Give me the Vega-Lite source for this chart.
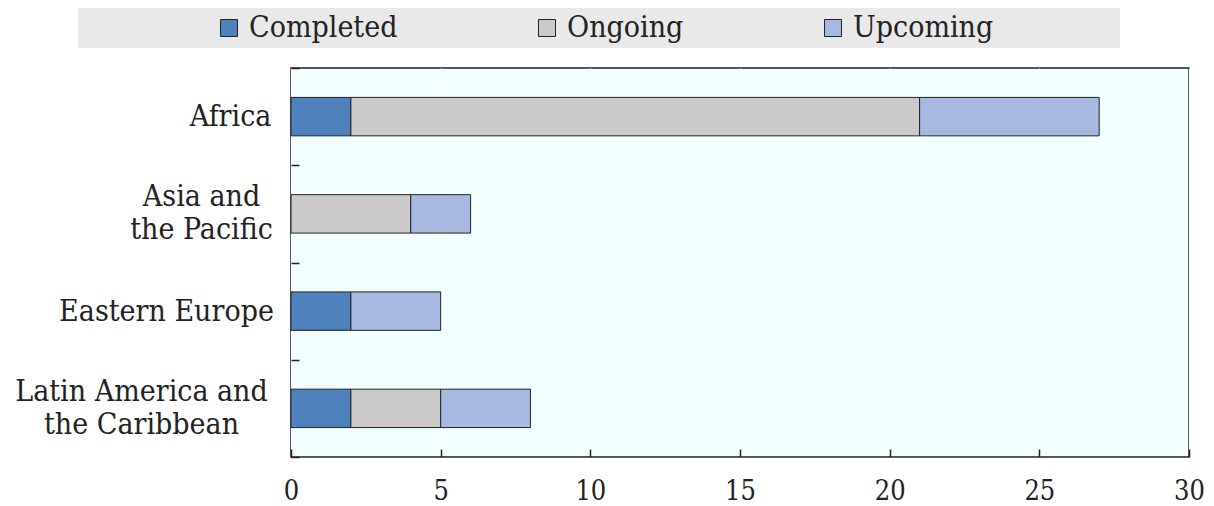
{
  "$schema": "https://vega.github.io/schema/vega-lite/v6.json",
  "width": 898,
  "height": 389,
  "autosize": {"type": "none"},
  "padding": {"left": 291, "top": 68, "right": 25, "bottom": 49},
  "background": "white",
  "data": {
    "values": [
      {"region": "Africa", "status": "Completed", "count": 2},
      {"region": "Africa", "status": "Ongoing", "count": 19},
      {"region": "Africa", "status": "Upcoming", "count": 6},
      {"region": "Asia and the Pacific", "status": "Ongoing", "count": 4},
      {"region": "Asia and the Pacific", "status": "Upcoming", "count": 2},
      {"region": "Eastern Europe", "status": "Completed", "count": 2},
      {"region": "Eastern Europe", "status": "Upcoming", "count": 3},
      {"region": "Latin America and the Caribbean", "status": "Completed", "count": 2},
      {"region": "Latin America and the Caribbean", "status": "Ongoing", "count": 3},
      {"region": "Latin America and the Caribbean", "status": "Upcoming", "count": 3}
    ]
  },
  "mark": {"type": "bar", "height": {"band": 0.395}, "stroke": "#222222", "strokeWidth": 1},
  "encoding": {
    "y": {
      "field": "region",
      "type": "nominal",
      "sort": null,
      "scale": {"paddingInner": 0, "paddingOuter": 0},
      "axis": {
        "title": null,
        "domain": false,
        "grid": false,
        "tickBand": "extent",
        "tickSize": -8,
        "tickColor": "#222222",
        "tickWidth": 1.5,
        "labelAlign": "center",
        "labelBaseline": {
          "condition": {"test": "datum.value == 'Asia and the Pacific' || datum.value == 'Latin America and the Caribbean'", "value": "line-bottom"},
          "value": "middle"
        },
        "labelFont": "DejaVu Serif Condensed, DejaVu Serif",
        "labelFontSize": 30,
        "labelColor": "#222222",
        "labelLineHeight": 33,
        "labelLimit": 0,
        "labelExpr": "datum.value == 'Asia and the Pacific' ? ['Asia and', 'the Pacific'] : datum.value == 'Latin America and the Caribbean' ? ['Latin America and', 'the Caribbean'] : datum.label",
        "labelPadding": {
          "condition": [
            {"test": "datum.value == 'Africa'", "value": 69},
            {"test": "datum.value == 'Asia and the Pacific'", "value": 98},
            {"test": "datum.value == 'Eastern Europe'", "value": 133}
          ],
          "value": 158
        }
      }
    },
    "x": {
      "field": "count",
      "type": "quantitative",
      "stack": "zero",
      "scale": {"domain": [0, 30], "nice": false},
      "axis": {
        "title": null,
        "domain": false,
        "values": [0, 5, 10, 15, 20, 25, 30],
        "tickSize": -8,
        "tickColor": "#222222",
        "tickWidth": 1.5,
        "labelFont": "DejaVu Serif Condensed, DejaVu Serif",
        "labelFontSize": 27,
        "labelColor": "#222222",
        "labelPadding": 29,
        "labelFlush": false,
        "labelOverlap": false,
        "grid": true,
        "gridColor": "#ffffff",
        "gridWidth": 1
      }
    },
    "color": {
      "field": "status",
      "type": "nominal",
      "scale": {
        "domain": ["Completed", "Ongoing", "Upcoming"],
        "range": ["#4f81bd", "#cacaca", "#a7b8e1"]
      },
      "legend": {
        "orient": "none",
        "legendX": -213,
        "legendY": -60,
        "direction": "horizontal",
        "title": "\u00a0",
        "titleOrient": "left",
        "titleFontSize": 1,
        "titlePadding": 131,
        "padding": 5,
        "fillColor": "#e9e9e9",
        "symbolType": "square",
        "symbolSize": 289,
        "symbolStrokeColor": "#222222",
        "symbolStrokeWidth": 1,
        "labelFont": "DejaVu Serif Condensed, DejaVu Serif",
        "labelFontSize": 30,
        "labelColor": "#222222",
        "labelOffset": 5,
        "columnPadding": 134,
        "labelLimit": 0,
        "labelExpr": "datum.value == 'Upcoming' ? 'Upcoming\u2003\u2003\u2003\u2003\u2002\u200b' : datum.label"
      }
    }
  },
  "config": {
    "view": {"fill": "#f2ffff", "stroke": "#222222", "strokeWidth": 1.5}
  }
}
